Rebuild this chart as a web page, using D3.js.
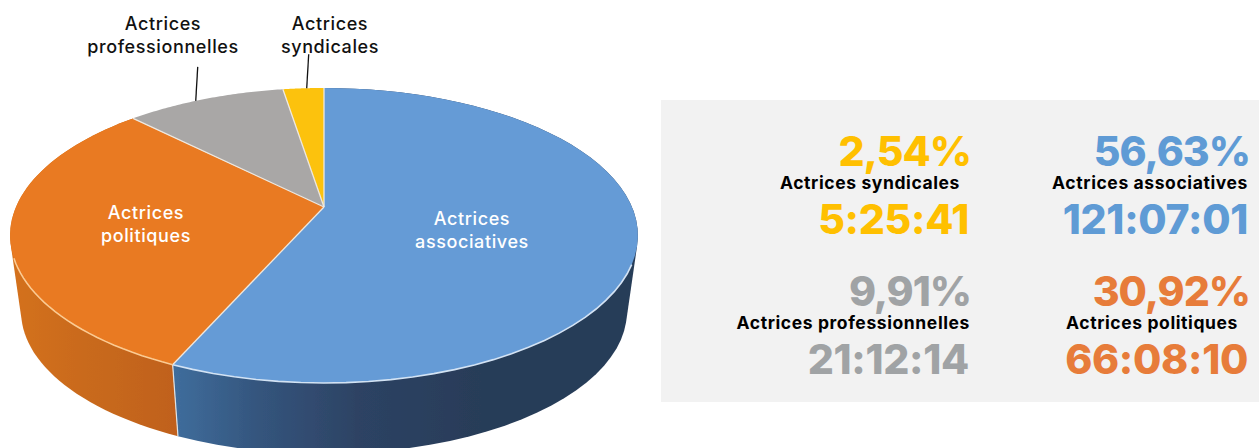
<!DOCTYPE html>
<html lang="fr">
<head>
    <meta charset="UTF-8">
    <title>Actrices</title>
    <script src="https://d3js.org/d3.v7.min.js"></script>
    <style>
        html, body { margin: 0; background: #fff; }
        svg { display: block; }
        text { font-family: Inter, sans-serif; }
    </style>
</head>
<body>
<div id="vis"></div>
<script>
var categories = ['Actrices associatives', 'Actrices politiques', 'Actrices professionnelles', 'Actrices syndicales'];
var percentages = [56.63, 30.92, 9.91, 2.54];
var percent_labels = ['56,63%', '30,92%', '9,91%', '2,54%'];
var durations = ['121:07:01', '66:08:10', '21:12:14', '5:25:41'];
var slice_colours = ['#659bd6', '#e97a20', '#a9a7a6', '#fcc20a'];
var rim_colours = ['#d3e3f4', '#fbcb94'];
var text_colours = ['#5f9bd5', '#e77c3a', '#a0a3a5', '#ffc000'];

var width = 1259, height = 448;

var svg = d3.select('#vis').append('svg')
    .attr('width', width)
    .attr('height', height);

// tilted disc: unit circle seen in perspective, apex is not the ellipse centre
var cx = 324, cy = 207, rx = 308, ry = 142, k = 0.193;
var depth = 77, bottom_scale = 0.965;

function project(a, lower) {
    var u = Math.sin(a), v = -Math.cos(a), w = 1 - k * v;
    var s = lower ? bottom_scale : 1;
    return [cx + s * rx * u / w, cy + s * ry * v / w + (lower ? depth : 0)];
}

var slices = d3.pie().sort(null).value(function(d) { return d; })(percentages);
var line = d3.line();

function rim(d, lower) {
    return d3.range(0, 61).map(function(i) {
        return project(d.startAngle + (d.endAngle - d.startAngle) * i / 60, lower);
    });
}

var defs = svg.append('defs');

function side_gradient(id, stops) {
    defs.append('linearGradient')
        .attr('id', id)
        .attr('gradientUnits', 'userSpaceOnUse')
        .attr('x1', 10).attr('x2', 640).attr('y1', 0).attr('y2', 0)
        .selectAll('stop').data(stops).enter().append('stop')
        .attr('offset', function(d) { return d[0]; })
        .attr('stop-color', function(d) { return d[1]; });
}
side_gradient('side0', [[0.26, '#3f6d9c'], [0.4, '#34547c'], [0.55, '#2d4364'], [0.75, '#283c58'], [1, '#283c58']]);
side_gradient('side1', [[0, '#d4711c'], [0.12, '#c96a1a'], [0.26, '#c0611a']]);

var soft = defs.append('filter').attr('id', 'soft');
soft.append('feGaussianBlur').attr('stdDeviation', 0.5);

var pie_group = svg.append('g').attr('filter', 'url(#soft)');

// side wall, only the two front slices show. hull keeps the tangent down the silhouette
pie_group.selectAll('.side')
    .data(slices.slice(0, 2))
    .enter().append('path')
    .attr('class', 'side')
    .attr('d', function(d) {
        return line(d3.polygonHull(rim(d, false).concat(rim(d, true)))) + 'Z';
    })
    .attr('fill', function(d, i) { return 'url(#side' + i + ')'; });

// edge between the two side walls
pie_group.append('path')
    .attr('d', line([project(slices[0].endAngle, false), project(slices[0].endAngle, true)]))
    .attr('stroke', '#dfe3e6')
    .attr('stroke-width', 1.2)
    .attr('fill', 'none');

pie_group.selectAll('.slice')
    .data(slices)
    .enter().append('path')
    .attr('class', 'slice')
    .attr('d', function(d) {
        return line([[cx, cy]].concat(rim(d, false))) + 'Z';
    })
    .attr('fill', function(d, i) { return slice_colours[i]; });

// light seams between slices
pie_group.selectAll('.seam')
    .data(slices)
    .enter().append('path')
    .attr('class', 'seam')
    .attr('d', function(d) { return line([[cx, cy], project(d.startAngle, false)]); })
    .attr('stroke', '#efe8df')
    .attr('stroke-width', 1.3);

// highlight on the rim, only where the wall shows below it
pie_group.selectAll('.rim')
    .data(slices.slice(0, 2))
    .enter().append('path')
    .attr('class', 'rim')
    .attr('d', function(d) {
        return line(rim(d, false).filter(function(p) { return p[1] > 256; }));
    })
    .attr('fill', 'none')
    .attr('stroke', function(d, i) { return rim_colours[i]; })
    .attr('stroke-width', 1.6);

// leader lines from the rim up to the outside labels
var leaders = [{ slice: 2, at: 0.44, dx: 2, dy: -34 }, { slice: 3, at: 0.58, dx: 2, dy: -34 }];
svg.selectAll('.leader')
    .data(leaders)
    .enter().append('path')
    .attr('class', 'leader')
    .attr('d', function(l) {
        var d = slices[l.slice];
        var p = project(d.startAngle + (d.endAngle - d.startAngle) * l.at, false);
        return line([p, [p[0] + l.dx, p[1] + l.dy]]);
    })
    .attr('stroke', '#111')
    .attr('stroke-width', 1.3);

var pie_labels = [
    { slice: 0, x: 472, y: 225, fill: '#fff' },
    { slice: 1, x: 146, y: 219, fill: '#fff' },
    { slice: 2, x: 163, y: 30, fill: '#111' },
    { slice: 3, x: 330, y: 30, fill: '#111' }
];
pie_labels.forEach(function(l) {
    var t = svg.append('text')
        .attr('text-anchor', 'middle')
        .attr('fill', l.fill)
        .style('font-size', '18px')
        .style('letter-spacing', '0.6px')
        .style('font-weight', 500);
    categories[l.slice].split(' ').forEach(function(word, i) {
        t.append('tspan').attr('x', l.x).attr('y', l.y + i * 22.5).text(word);
    });
});

// right panel
svg.append('rect')
    .attr('x', 661).attr('y', 100)
    .attr('width', 598).attr('height', 302)
    .attr('fill', '#f2f2f2');

var cells = [
    { slice: 3, right: 969, label_right: 960, top: 166 },
    { slice: 0, right: 1248, label_right: 1248, top: 166 },
    { slice: 2, right: 969, label_right: 970, top: 306 },
    { slice: 1, right: 1248, label_right: 1238, top: 306 }
];
cells.forEach(function(c) {
    var g = svg.append('g').attr('text-anchor', 'end');
    g.append('text')
        .attr('x', c.right + 2).attr('y', c.top)
        .attr('fill', text_colours[c.slice])
        .style('font-size', '41px').style('font-weight', 800)
        .style('letter-spacing', '-1px')
        .text(percent_labels[c.slice]);
    g.append('text')
        .attr('x', c.label_right).attr('y', c.top + 22.5)
        .attr('fill', '#000')
        .style('font-size', '17.5px').style('font-weight', 700)
        .style('letter-spacing', '0.6px')
        .text(categories[c.slice]);
    g.append('text')
        .attr('x', c.right).attr('y', c.top + 68)
        .attr('fill', text_colours[c.slice])
        .style('font-size', '41px').style('font-weight', 800)
        .style('letter-spacing', '-0.3px')
        .text(durations[c.slice]);
});
</script>
</body>
</html>
